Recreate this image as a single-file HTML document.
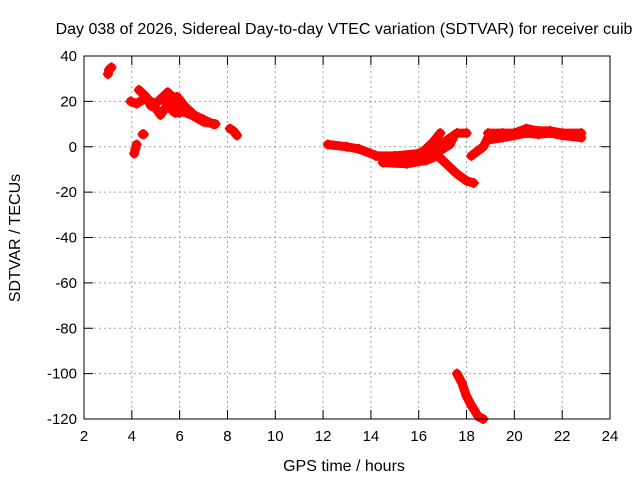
<!DOCTYPE html>
<html><head><meta charset="utf-8"><style>
body{margin:0;background:#fff}
svg{display:block;font-family:"Liberation Sans",sans-serif}
</style></head><body>
<svg id="chart" width="640" height="480" viewBox="0 0 640 480">
<rect width="640" height="480" fill="#fff"/>
<text x="344" y="34" font-size="16" text-anchor="middle">Day 038 of 2026, Sidereal Day-to-day VTEC variation (SDTVAR) for receiver cuib</text>
<text x="344" y="471" font-size="16" text-anchor="middle">GPS time / hours</text>
<text transform="translate(20,238) rotate(-90)" font-size="16" text-anchor="middle">SDTVAR / TECUs</text>
<g id="grid"></g><g id="ticks"></g><g id="series"></g>
<rect x="84" y="56" width="526" height="363" fill="none" stroke="#000" stroke-width="1"/>
</svg>
<script>
const xTicks=[2,4,6,8,10,12,14,16,18,20,22,24];
const yTicks=[40,20,0,-20,-40,-60,-80,-100,-120];
const trace1H=[3.0,3.05,3.15];const trace1V=[32,34,35];
const trace2H=[4.1,4.15,4.2];const trace2V=[-3,-1,1];
const trace3H=[4.45,4.5];const trace3V=[5.5,5.5];
const trace4H=[3.95,4.2,4.5,4.8,5.0,5.2,5.4,5.6,5.9,6.2,6.6,7.0,7.4];
const trace4V=[20,19,21,20,17,14,17,22,22,18,14,12,10];
const trace5H=[4.3,4.6,4.8,5.1,5.5,5.7,6.0,6.5,7.0,7.5];
const trace5V=[25,22,18,20,24,22,16,14,11,10];
const trace6H=[8.1,8.25,8.4];const trace6V=[8,7,5];
const trace7H=[12.2,13,13.5,14,14.5,15,15.5,16,16.5,17,17.3,17.5];
const trace7V=[1,0,-1,-3,-5,-6,-6,-6,-4,-1,1,5];
const trace8H=[14.2,15,16,16.6,17.2,17.6,18];
const trace8V=[-4,-4,-3,-1,3,6,6];
const trace9H=[14.5,15.5,16.3,16.8,17.2,17.6,18,18.3];
const trace9V=[-7,-7.5,-6,-4,-8,-12,-15,-16];
const trace10H=[18.2,18.7,18.9];const trace10V=[-4,0,4];
const trace11H=[18.9,19.5,20,20.5,21,21.5,22,22.8];
const trace11V=[6,6,6,8,7,7,6,6];
const trace12H=[18.9,19.5,20,20.5,21,21.5,22,22.8];
const trace12V=[3,4,5,6,5.5,6,5,4];
const trace13H=[17.6,17.8,18.0,18.2,18.5,18.7];
const trace13V=[-100,-104,-110,-114,-119,-120];
const trace14H=[5.6,5.8,6.0,6.2];const trace14V=[17,15,15,16];
const trace15H=[15.5,16.2,16.6,16.9];const trace15V=[-5,-2,2,6];
const traces=[[trace1H,trace1V],[trace2H,trace2V],[trace3H,trace3V],[trace4H,trace4V],[trace5H,trace5V],[trace6H,trace6V],[trace7H,trace7V],[trace8H,trace8V],[trace9H,trace9V],[trace10H,trace10V],[trace11H,trace11V],[trace12H,trace12V],[trace13H,trace13V],[trace14H,trace14V],[trace15H,trace15V]];
const NS="http://www.w3.org/2000/svg";
const X=h=>84+(h-2)*526/22;
const Y=v=>56+(40-v)*363/160;
function mk(t,a,p){const e=document.createElementNS(NS,t);for(const k in a)e.setAttribute(k,a[k]);p.appendChild(e);return e;}
const g=document.getElementById('grid'),tk=document.getElementById('ticks'),s=document.getElementById('series');
xTicks.forEach(t=>{const x=X(t);
 if(t>2&&t<24){const l=mk('line',{x1:x,x2:x,y1:56,y2:419,stroke:'#a0a0a0','stroke-dasharray':'2,3'},g);
 
 }
 mk('line',{x1:x,x2:x,y1:419,y2:410,stroke:'#000'},tk);mk('line',{x1:x,x2:x,y1:56,y2:65,stroke:'#000'},tk);
 const tx=mk('text',{x:x,y:441,'font-size':15,'text-anchor':'middle'},tk);tx.textContent=t;
 
 });
yTicks.forEach(t=>{const y=Y(t);
 if(t<40&&t>-120){const l=mk('line',{x1:84,x2:610,y1:y,y2:y,stroke:'#a0a0a0','stroke-dasharray':'2,3'},g);
 
 }
 mk('line',{x1:84,x2:93,y1:y,y2:y,stroke:'#000'},tk);mk('line',{x1:601,x2:610,y1:y,y2:y,stroke:'#000'},tk);
 const tx=mk('text',{x:77,y:y+5,'font-size':15,'text-anchor':'end'},tk);tx.textContent=t;
 
 });
traces.forEach(([H,V],i)=>{
 const pts=H.map((h,j)=>X(h)+','+Y(V[j])).join(' ');
 const pl=mk('polyline',{points:pts,fill:'none',stroke:'#f00','stroke-width':9,'stroke-linejoin':'round','stroke-linecap':'round'},s);
 
 
 H.forEach((h,j)=>{const x=X(h),y=Y(V[j]);
  const p=mk('path',{d:`M${x-5},${y}h10M${x},${y-5}v10`,stroke:'#f00','stroke-width':2},s);
  
  });
});
</script>
</body></html>
